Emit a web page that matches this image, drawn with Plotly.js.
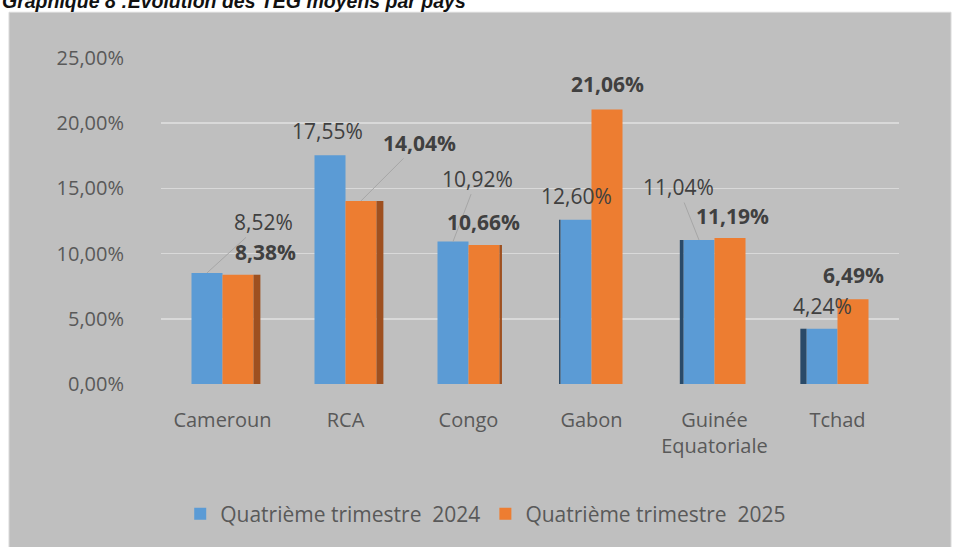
<!DOCTYPE html>
<html>
<head>
<meta charset="utf-8">
<script src="https://cdn.plot.ly/plotly-3.0.1.min.js"></script>
<style>html,body{margin:0;padding:0;background:#fff;}#chart{width:959px;height:547px;}</style>
</head>
<body>
<div id="chart"></div>
<script>
const categories = ['Cameroun', 'RCA', 'Congo', 'Gabon', 'Guinée<br>Equatoriale', 'Tchad'];
const values2024 = [8.52, 17.55, 10.92, 12.60, 11.04, 4.24];
const values2025 = [8.38, 14.04, 10.66, 21.06, 11.19, 6.49];
const seriesNames = ['Quatrième trimestre  2024', 'Quatrième trimestre  2025'];
const yTicks = [0, 5, 10, 15, 20, 25];
const titleText = 'Graphique 8 :Evolution des TEG moyens par pays';

// label placement (pixels relative to bar top)
const dx2024 = [56, -3, 24, 0, -21, 0];
const dy2024 = [-51, -24, -63, -24, -53, -23];
const lead2024 = [true, false, true, false, true, false];
const dx2025 = [27, 58, -1, 0, 2, 0];
const dy2025 = [-23, -58, -23, -25, -22, -24];
const lead2025 = [false, true, false, false, false, false];

// pseudo-3D side faces (style only): widths in category units
const sideOrangeW = [0.056, 0.056, 0.02, 0, 0, 0];
const sideBlueW = [0, 0, 0, 0.012, 0.03, 0.05];

const fmt = v => v.toFixed(2).replace('.', ',') + '%';
const FONT = 'Open Sans, sans-serif';
const BLUE = '#5b9bd5', ORANGE = '#ed7d31';
const barHalf = 15.5;
const barW = 31 / 123;

const traces = [
  {type: 'bar', name: seriesNames[0], x: categories, y: values2024,
   marker: {color: BLUE}, hoverinfo: 'skip'},
  {type: 'bar', name: seriesNames[1], x: categories, y: values2025,
   marker: {color: ORANGE}, hoverinfo: 'skip'},
  {type: 'bar', x: categories, y: values2025, showlegend: false, hoverinfo: 'skip',
   width: sideOrangeW, offset: barW, marker: {color: '#9e5020'}},
  {type: 'bar', x: categories, y: values2024, showlegend: false, hoverinfo: 'skip',
   width: sideBlueW, offset: sideBlueW.map(w => -barW - w), marker: {color: '#2a4a68'}}
];

const annotations = [];
function addLabels(vals, dxs, dys, leads, shift, bold) {
  vals.forEach((v, i) => {
    annotations.push({
      x: categories[i], y: v, xref: 'x', yref: 'y', xshift: shift,
      text: bold ? '<b>' + fmt(v) + '</b>' : fmt(v),
      showarrow: true, arrowhead: 0, arrowwidth: 1, standoff: 0, startstandoff: 0,
      arrowcolor: leads[i] ? '#a6a6a6' : 'rgba(0,0,0,0)',
      ax: dxs[i], ay: dys[i],
      font: {family: FONT, size: 21, color: '#404040'}
    });
  });
}
addLabels(values2024, dx2024, dy2024, lead2024, -barHalf, false);
addLabels(values2025, dx2025, dy2025, lead2025, barHalf, true);

// title (partially cut off at top, as in the reference)
annotations.push({
  xref: 'paper', yref: 'paper', x: -0.218, y: 1.136, xanchor: 'left', yanchor: 'bottom',
  text: '<b><i>' + titleText + '</i></b>', showarrow: false,
  font: {family: 'Liberation Sans, Arial, sans-serif', size: 19.5, color: '#111'}
});

const layout = {
  width: 959, height: 547,
  margin: {l: 161, r: 60, t: 58, b: 161},
  paper_bgcolor: '#ffffff',
  plot_bgcolor: 'rgba(0,0,0,0)',
  separators: ', ',
  barmode: 'group', bargap: 0.496, bargroupgap: 0,
  showlegend: true,
  legend: {orientation: 'h', x: 0.44, xanchor: 'center', y: (386 - 517) / 328, yanchor: 'middle',
           font: {family: FONT, size: 21, color: '#595959'}, bgcolor: 'rgba(0,0,0,0)'},
  xaxis: {type: 'category', showgrid: false, zeroline: false, showline: false, ticks: '',
          ticklabelstandoff: 22,
          tickfont: {family: FONT, size: 20, color: '#595959'}},
  yaxis: {range: [0, 25], tickmode: 'array', tickvals: yTicks, ticktext: yTicks.map(fmt),
          showgrid: true, gridcolor: '#d9d9d9', gridwidth: 1.5, zeroline: false,
          showline: false, ticks: '', ticklabelstandoff: 36,
          tickfont: {family: FONT, size: 20, color: '#595959'}},
  shapes: [{type: 'rect', xref: 'paper', yref: 'paper', layer: 'below',
            x0: (9 - 161) / 738, x1: (951 - 161) / 738, y0: (386 - 560) / 328, y1: (386 - 12) / 328,
            fillcolor: '#bfbfbf', line: {color: '#d9d9d9', width: 1}}],
  annotations: annotations
};

Plotly.newPlot('chart', traces, layout, {displayModeBar: false, staticPlot: true});
</script>
</body>
</html>
